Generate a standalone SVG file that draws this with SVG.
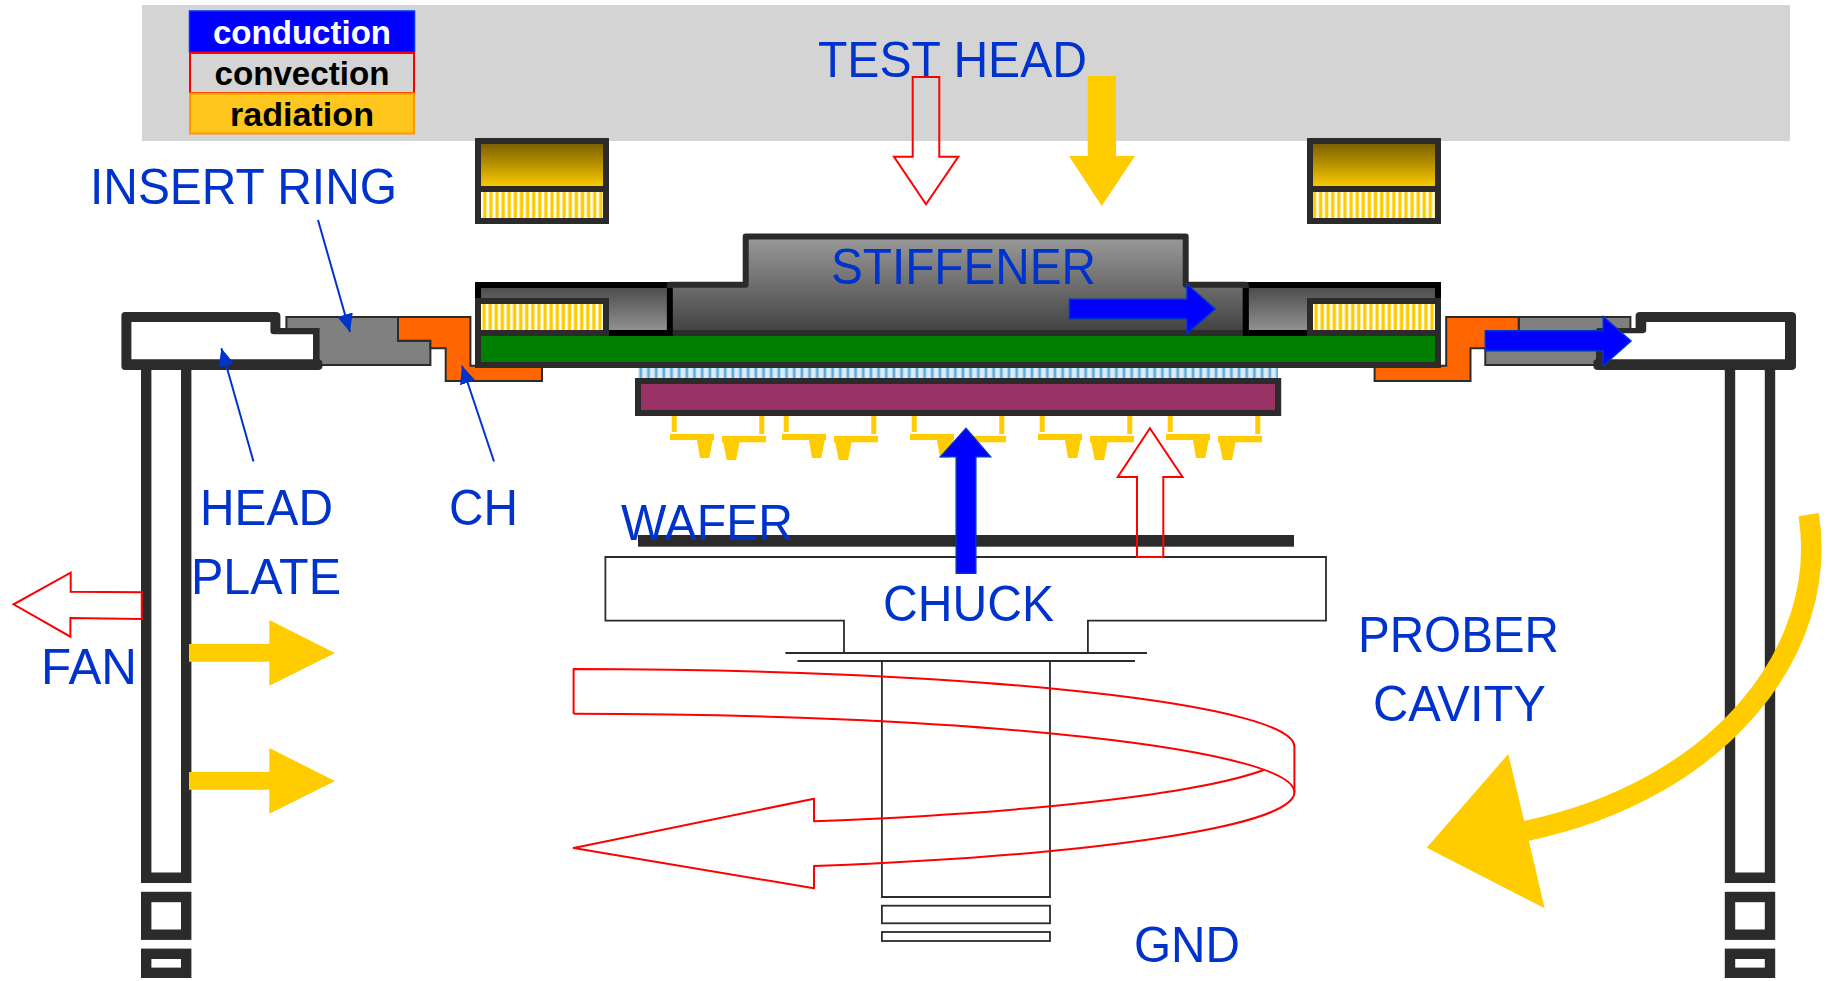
<svg xmlns="http://www.w3.org/2000/svg" xmlns:xlink="http://www.w3.org/1999/xlink" width="1832" height="981" viewBox="0 0 1832 981">
<style>
.lbl{font-family:"Liberation Sans",Arial,sans-serif;font-size:50px;fill:#0033cc}
.leg{font-family:"Liberation Sans",Arial,sans-serif;font-size:33px;font-weight:bold;text-anchor:middle}
.dk{fill:#2b2b2b}
.blk{fill:#000}
.gray{fill:#808080;stroke:#2b2b2b;stroke-width:2}
.org{fill:#ff6600;stroke:#2b2b2b;stroke-width:2}
.yl{fill:#ffcc00}
.cv{fill:none;stroke:#ff0000;stroke-width:2}
.cd{fill:#0000ff;stroke:#0033cc;stroke-width:1.5}
.thin{fill:none;stroke:#2b2b2b;stroke-width:1.8}
.frame{fill:none;stroke:#2b2b2b;stroke-width:10.4}
.leader{fill:none;stroke:#0033cc;stroke-width:2;marker-end:url(#ah)}
</style>
<defs>
<marker id="ah" viewBox="0 0 18 16" refX="18" refY="8" markerWidth="18" markerHeight="16" markerUnits="userSpaceOnUse" orient="auto"><path d="M0,0 L18,8 L0,16 Z" fill="#0033cc"/></marker>
<linearGradient id="gGold" x1="0" y1="0" x2="0" y2="1"><stop offset="0" stop-color="#7d6000"/><stop offset="1" stop-color="#f8c800"/></linearGradient>
<linearGradient id="gStiff" x1="0" y1="240" x2="0" y2="330" gradientUnits="userSpaceOnUse"><stop offset="0" stop-color="#979797"/><stop offset="1" stop-color="#444444"/></linearGradient>
<linearGradient id="gSide" x1="0" y1="288" x2="0" y2="330" gradientUnits="userSpaceOnUse"><stop offset="0" stop-color="#4d4d4d"/><stop offset="1" stop-color="#919191"/></linearGradient>
<pattern id="pY" x="481" y="0" width="6.1" height="10" patternUnits="userSpaceOnUse"><rect width="6.1" height="10" fill="#fff"/><rect x="1.8" width="0.6" height="10" fill="#ffe680"/><rect x="2.4" width="3" height="10" fill="#ffcc00"/><rect x="5.4" width="0.5" height="10" fill="#ffe680"/></pattern>
<pattern id="pB" x="638" y="0" width="7.67" height="10" patternUnits="userSpaceOnUse"><rect width="7.67" height="10" fill="#dcecf8"/><rect x="0.8" width="1" height="10" fill="#a8d2ee"/><rect x="1.8" width="2" height="10" fill="#5aaade"/><rect x="3.8" width="1" height="10" fill="#a8d2ee"/></pattern>
<g id="probe"><rect class="yl" x="671.7" y="416" width="5" height="16"/><rect class="yl" x="670" y="434" width="44" height="6"/><path class="yl" d="M696,434 H714 L709.3,458 H700 Z"/><rect class="yl" x="759.3" y="416" width="5" height="18"/><rect class="yl" x="722" y="436" width="44" height="6.3"/><path class="yl" d="M722,436 H740.7 L736,460 H726.7 Z"/></g>
<g id="legset"><path class="frame" d="M146.2,368 V877.7 H186.2 V368"/><rect class="frame" x="146.2" y="897" width="40" height="37.7"/><rect class="frame" x="146.2" y="953.8" width="40" height="19"/></g>
<g id="hs"><rect class="dk" x="0" y="0" width="134" height="38"/><rect fill="url(#pY)" x="6" y="6" width="122" height="26"/></g>
</defs>
<rect width="1832" height="981" fill="#fff"/>

<g id="test-head"><rect x="142" y="5" width="1648" height="136" fill="#d4d4d4"/><text class="lbl" x="818" y="77" textLength="269" lengthAdjust="spacingAndGlyphs">TEST HEAD</text></g>

<g id="legend">
<rect x="189.5" y="11" width="225" height="41" fill="#0000ff" stroke="#0033ff" stroke-width="1.5"/>
<rect x="190" y="53" width="224" height="40" fill="#d4d4d4" stroke="#ff0000" stroke-width="2"/>
<rect x="190" y="93.5" width="224" height="40" fill="#ffc61e" stroke="#ff9900" stroke-width="2"/>
<text class="leg" x="302" y="44" fill="#fff" textLength="178" lengthAdjust="spacingAndGlyphs">conduction</text>
<text class="leg" x="302" y="85" fill="#000" textLength="175" lengthAdjust="spacingAndGlyphs">convection</text>
<text class="leg" x="302" y="126" fill="#000" textLength="144" lengthAdjust="spacingAndGlyphs">radiation</text>
</g>

<g id="upper-block-left"><rect class="dk" x="475" y="138" width="134" height="86"/><rect fill="url(#gGold)" x="481" y="144" width="122" height="42"/><rect fill="url(#pY)" x="481" y="192" width="122" height="26"/></g>
<g id="upper-block-right"><rect class="dk" x="1307" y="138" width="134" height="86"/><rect fill="url(#gGold)" x="1313" y="144" width="122" height="42"/><rect fill="url(#pY)" x="1313" y="192" width="122" height="26"/></g>

<g id="insert-ring-left"><path class="gray" d="M286.4,317 H398 V340.7 H430.4 V365 H318.6 V329 H286.4 Z"/></g>
<g id="insert-ring-right"><path class="gray" d="M1518.7,317 H1630.4 V330 H1597 V365 H1485.3 V340.7 H1518.7 Z"/></g>
<g id="ch-left"><path class="org" d="M398,317 H470.4 V365.7 H542 V381 H445.7 V348.3 H430.4 V340.7 H398 Z"/></g>
<g id="ch-right"><path class="org" d="M1518.7,317 H1446.2 V365.7 H1374.6 V381 H1470.5 V348.3 H1486.2 V340.7 H1518.7 Z"/></g>

<g id="head-plate-left"><path class="dk" fill-rule="evenodd" d="M125,312 H276 Q280.4,312 280.4,316 V328 H318.6 V359.3 H318 Q322.5,359.3 322.5,364 V366 Q322.5,370 318,370 H125 Q121.4,370 121.4,366 V316 Q121.4,312 125,312 Z M131.4,322 V359.3 H313 V334.3 H274 Q270.4,334.3 270.4,331 V322 Z"/></g>
<g id="head-plate-right"><path class="dk" fill-rule="evenodd" d="M1640,312 H1791 Q1796,312 1796,316 V366 Q1796,370 1791,370 H1598 Q1593.4,370 1593.4,366 V362 Q1593.4,359.3 1597,359.3 V328 H1635.6 V316 Q1635.6,312 1640,312 Z M1646.2,322 V330 Q1646.2,333.3 1642,333.3 H1603 V359.3 H1785 V322 Z"/></g>
<g id="legs-left"><use href="#legset" xlink:href="#legset"/></g>
<g id="legs-right"><use href="#legset" xlink:href="#legset" transform="translate(1583.8,0)"/></g>

<g id="pcb-assembly">
<rect class="blk" x="475" y="282" width="966" height="54"/>
<rect fill="url(#gSide)" x="481" y="288" width="186" height="42"/>
<rect fill="url(#gSide)" x="1248.6" y="288" width="186.4" height="42"/>
<path fill="url(#gStiff)" stroke="#2b2b2b" stroke-width="6" stroke-linejoin="round" d="M669.8,333 V284.8 H745.7 V236.4 H1185.7 V284.8 H1245.7 V333 Z"/>
<rect class="blk" x="667" y="288" width="5.7" height="48"/>
<rect class="blk" x="1242.8" y="288" width="5.8" height="48"/>
<rect class="dk" x="475" y="336" width="966" height="32"/>
<rect x="481" y="336" width="954" height="26" fill="#008000"/>
<use href="#hs" xlink:href="#hs" x="475" y="298"/>
<use href="#hs" xlink:href="#hs" x="1307" y="298"/>
<text class="lbl" x="831" y="284" textLength="265" lengthAdjust="spacingAndGlyphs">STIFFENER</text>
</g>

<g id="probe-card">
<rect fill="url(#pB)" x="638" y="368" width="640" height="10"/>
<rect class="dk" x="635" y="378" width="646.2" height="38"/>
<rect x="641" y="384" width="634" height="26" fill="#993366"/>
<use href="#probe" xlink:href="#probe"/>
<use href="#probe" xlink:href="#probe" x="112"/>
<use href="#probe" xlink:href="#probe" x="240"/>
<use href="#probe" xlink:href="#probe" x="368"/>
<use href="#probe" xlink:href="#probe" x="496"/>
</g>

<g id="chuck">
<path class="thin" d="M844,653 V620.7 H605.4 V557 H1326 V620.7 H1087.9 V653"/>
<path class="thin" d="M785.4,653 H1147 M797.5,661 H1135"/>
<path class="thin" d="M881.9,661 V897 H1050 V661"/>
<rect class="thin" x="881.9" y="905.7" width="168.1" height="17.6"/>
<rect class="thin" x="881.9" y="932" width="168.1" height="9"/>
</g>
<g id="wafer"><rect class="dk" x="638" y="535" width="656" height="11.7"/></g>

<g id="labels">
<text class="lbl" x="90" y="204" textLength="307" lengthAdjust="spacingAndGlyphs">INSERT RING</text>
<text class="lbl" x="200" y="524.5" textLength="133" lengthAdjust="spacingAndGlyphs">HEAD</text>
<text class="lbl" x="191" y="594" textLength="150" lengthAdjust="spacingAndGlyphs">PLATE</text>
<text class="lbl" x="449" y="524.5" textLength="69" lengthAdjust="spacingAndGlyphs">CH</text>
<text class="lbl" x="621" y="540" textLength="172" lengthAdjust="spacingAndGlyphs">WAFER</text>
<text class="lbl" x="883" y="621" textLength="171" lengthAdjust="spacingAndGlyphs">CHUCK</text>
<text class="lbl" x="41" y="684" textLength="96" lengthAdjust="spacingAndGlyphs">FAN</text>
<text class="lbl" x="1358" y="652" textLength="201" lengthAdjust="spacingAndGlyphs">PROBER</text>
<text class="lbl" x="1373" y="721" textLength="173" lengthAdjust="spacingAndGlyphs">CAVITY</text>
<text class="lbl" x="1134" y="962" textLength="106" lengthAdjust="spacingAndGlyphs">GND</text>
</g>

<g id="connectors">
<line class="leader" x1="318" y1="220" x2="350" y2="332"/>
<line class="leader" x1="253.5" y1="461.5" x2="221.4" y2="348.3"/>
<line class="leader" x1="494" y1="461.5" x2="462" y2="365.7"/>

<path class="cv" d="M912.7,77 H939.3 V156.7 H958.3 L926,204.3 L894,156.7 H912.7 Z"/>
<path class="yl" d="M1087.7,76 H1116 V156 H1135 L1101.7,206 L1069,156 H1087.7 Z"/>

<path class="cd" d="M1069.5,299.3 H1187 V284.3 L1215,309 L1187,333.3 V318.7 H1069.5 Z"/>
<path class="cd" d="M1485.3,330.7 H1603.2 V316.7 L1631,341 L1603.2,365.7 V350.7 H1485.3 Z"/>
<path class="cd" d="M956.2,573.3 V456.7 H940.5 L966,428.3 L990.5,456.7 H975.8 V573.3 Z"/>

<path class="cv" d="M1137,557 V477 H1117.8 L1149.9,428.3 L1182.5,477 H1163.3 V557 Z"/>
<path class="cv" d="M141.8,592.3 L70.7,591.7 V572.7 L13.6,604.3 L70.4,636.7 V618 L141.8,619 Z"/>

<path class="yl" d="M189,644 H269.3 V620 L335,653 L269.3,685.7 V661.7 H189 Z"/>
<path class="yl" d="M189,772 H269.3 V748 L335,781 L269.3,813.7 V789.7 H189 Z"/>

<path class="cv" stroke-linejoin="round" d="M573.6,713.7 V669 A720.8,77.7 0 0 1 1294.4,746.7 V792.3 A720.8,78.2 0 0 1 814,866 V888.3 L573.6,848 L814,798.7 V821.3 A720.8,78 0 0 0 1263.8,770"/>
<path class="cv" d="M573.6,713.7 A720.8,78.6 0 0 1 1294.4,792.3"/>

<path fill="none" stroke="#ffcc00" stroke-width="20.5" d="M1808.7,514.7 C1830,650 1720,790 1527,830.7 L1505,835"/>
<path class="yl" d="M1508.3,754 L1426.7,847.7 L1544.7,908.3 Z"/>
</g>
</svg>
